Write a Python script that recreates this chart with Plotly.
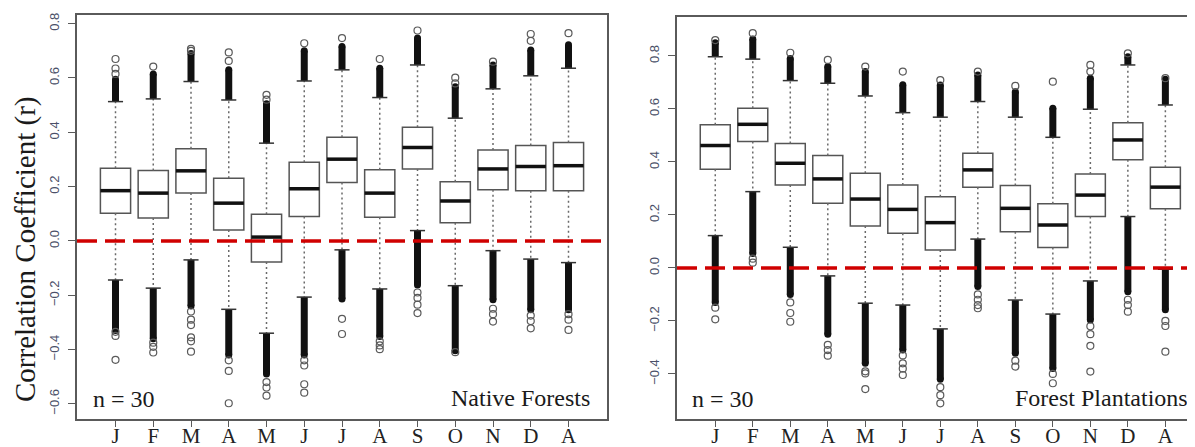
import plotly.graph_objects as go

# page offset: the browser body keeps its default 8px margin
OFF = 8
W, H = 1195 - OFF, 447 - OFF

months = ["J", "F", "M", "A", "M", "J", "J", "A", "S", "O", "N", "D", "A"]
positions = list(range(1, 14))

# ---------------- Native Forests ----------------
nf_q1 = [0.102, 0.084, 0.176, 0.040, -0.078, 0.090, 0.215, 0.087, 0.265, 0.067, 0.188, 0.185, 0.185]
nf_med = [0.185, 0.176, 0.258, 0.139, 0.014, 0.192, 0.301, 0.176, 0.344, 0.147, 0.265, 0.274, 0.277]
nf_q3 = [0.268, 0.259, 0.339, 0.231, 0.098, 0.290, 0.382, 0.262, 0.419, 0.218, 0.335, 0.351, 0.362]
nf_lo = [-0.144, -0.174, -0.070, -0.252, -0.340, -0.207, -0.033, -0.177, 0.038, -0.165, -0.036, -0.067, -0.080]
nf_hi = [0.513, 0.523, 0.587, 0.519, 0.360, 0.589, 0.630, 0.528, 0.648, 0.452, 0.560, 0.608, 0.636]
nf_dense_hi = [0.595, 0.615, 0.690, 0.630, 0.505, 0.700, 0.716, 0.636, 0.747, 0.568, 0.648, 0.703, 0.722]
nf_dense_lo = [-0.330, -0.360, -0.240, -0.420, -0.490, -0.420, -0.214, -0.352, -0.162, -0.405, -0.217, -0.254, -0.254]
nf_sparse = [
    [0.615, 0.635, 0.670, -0.335, -0.350, -0.438],
    [0.642, -0.375, -0.390, -0.411],
    [0.700, 0.707, -0.260, -0.290, -0.310, -0.355, -0.370, -0.408],
    [0.663, 0.694, -0.440, -0.479, -0.598],
    [0.520, 0.538, -0.520, -0.540, -0.570],
    [0.728, -0.440, -0.459, -0.528, -0.559],
    [0.747, -0.287, -0.343],
    [0.670, -0.370, -0.385, -0.399],
    [0.775, -0.190, -0.210, -0.235, -0.266],
    [0.580, 0.601, -0.410],
    [0.660, -0.250, -0.270, -0.297],
    [0.737, 0.762, -0.275, -0.295, -0.322],
    [0.765, -0.270, -0.290, -0.328],
]

# ---------------- Forest Plantations ----------------
fp_q1 = [0.372, 0.477, 0.313, 0.244, 0.158, 0.131, 0.068, 0.305, 0.137, 0.077, 0.194, 0.408, 0.223]
fp_med = [0.462, 0.542, 0.395, 0.336, 0.260, 0.221, 0.171, 0.370, 0.225, 0.162, 0.275, 0.483, 0.305]
fp_q3 = [0.540, 0.603, 0.470, 0.424, 0.357, 0.313, 0.269, 0.433, 0.311, 0.242, 0.355, 0.548, 0.380]
fp_lo = [0.122, 0.288, 0.078, -0.030, -0.133, -0.140, -0.230, 0.109, -0.121, -0.174, -0.049, 0.194, -0.005]
fp_hi = [0.797, 0.788, 0.707, 0.697, 0.649, 0.586, 0.569, 0.628, 0.569, 0.493, 0.599, 0.766, 0.615]
fp_dense_hi = [0.850, 0.864, 0.790, 0.760, 0.741, 0.691, 0.690, 0.728, 0.665, 0.603, 0.716, 0.797, 0.712]
fp_dense_lo = [-0.130, 0.055, -0.100, -0.250, -0.360, -0.310, -0.420, -0.070, -0.322, -0.379, -0.196, -0.090, -0.158]
fp_sparse = [
    [0.860, -0.150, -0.194],
    [0.886, 0.035, 0.020],
    [0.812, -0.130, -0.170, -0.203],
    [0.785, -0.290, -0.310, -0.331],
    [0.760, -0.390, -0.398, -0.457],
    [0.741, -0.330, -0.360, -0.380, -0.404],
    [0.709, -0.450, -0.480, -0.511],
    [0.741, -0.100, -0.120, -0.140, -0.152],
    [0.687, -0.350, -0.372],
    [0.703, -0.400, -0.435],
    [0.741, 0.766, -0.220, -0.250, -0.294, -0.391],
    [0.810, -0.120, -0.140, -0.165],
    [0.716, -0.200, -0.219, -0.316],
]

left_yticks = [-0.6, -0.4, -0.2, 0.0, 0.2, 0.4, 0.6, 0.8]
right_yticks = [-0.4, -0.2, 0.0, 0.2, 0.4, 0.6, 0.8]

SERIF = "Liberation Serif"
SANS = "Liberation Sans"
FRAME = "#5a5a5a"


def px_x(p):
    return (p - OFF) / W


def px_y(p):
    return 1 - (p - OFF) / H


def panel(xa, ya, q1, med, q3, lo, hi, dhi, dlo, sparse):
    tr = []
    box_w = 0.8
    cap_w = 0.2
    # dotted whiskers
    wx, wy = [], []
    for i, p in enumerate(positions):
        wx += [p, p, None, p, p, None]
        wy += [q3[i], hi[i], None, q1[i], lo[i], None]
    tr.append(go.Scatter(x=wx, y=wy, mode="lines", hoverinfo="skip",
                         line=dict(color="#6a6a6a", width=1.5, dash="2px,3px"),
                         xaxis=xa, yaxis=ya))
    # boxes
    tr.append(go.Box(x=positions, q1=q1, median=med, q3=q3,
                     lowerfence=q1, upperfence=q3, width=box_w, whiskerwidth=0,
                     fillcolor="white", line=dict(color="#555555", width=1.5),
                     boxpoints=False, xaxis=xa, yaxis=ya, hoverinfo="skip"))
    # thick medians
    mx, my = [], []
    for i, p in enumerate(positions):
        mx += [p - box_w / 2, p + box_w / 2, None]
        my += [med[i], med[i], None]
    tr.append(go.Scatter(x=mx, y=my, mode="lines", hoverinfo="skip",
                         line=dict(color="#111111", width=3.5),
                         xaxis=xa, yaxis=ya))
    # dense outlier streaks
    sx, sy = [], []
    for i, p in enumerate(positions):
        sx += [p, p, None, p, p, None]
        sy += [hi[i], dhi[i], None, lo[i], dlo[i], None]
    tr.append(go.Scatter(x=sx, y=sy, mode="lines", hoverinfo="skip",
                         line=dict(color="#111111", width=7),
                         xaxis=xa, yaxis=ya))
    ex, ey = [], []
    for i, p in enumerate(positions):
        ex += [p, p]
        ey += [dhi[i], dlo[i]]
    tr.append(go.Scatter(x=ex, y=ey, mode="markers", hoverinfo="skip",
                         marker=dict(symbol="circle", size=7, color="#111111",
                                     line=dict(width=0)),
                         xaxis=xa, yaxis=ya))
    # caps
    cx, cy = [], []
    for i, p in enumerate(positions):
        cx += [p - cap_w, p + cap_w, None, p - cap_w, p + cap_w, None]
        cy += [hi[i], hi[i], None, lo[i], lo[i], None]
    tr.append(go.Scatter(x=cx, y=cy, mode="lines", hoverinfo="skip",
                         line=dict(color="#333333", width=1.5),
                         xaxis=xa, yaxis=ya))
    # sparse outliers
    ox, oy = [], []
    for i, p in enumerate(positions):
        for v in sparse[i]:
            ox.append(p)
            oy.append(v)
    tr.append(go.Scatter(x=ox, y=oy, mode="markers", hoverinfo="skip",
                         marker=dict(symbol="circle-open", size=7, color="#5a5a5a",
                                     line=dict(width=1.2)),
                         xaxis=xa, yaxis=ya))
    return tr


fig = go.Figure()
for t in panel("x", "y", nf_q1, nf_med, nf_q3, nf_lo, nf_hi, nf_dense_hi, nf_dense_lo, nf_sparse):
    fig.add_trace(t)
for t in panel("x2", "y2", fp_q1, fp_med, fp_q3, fp_lo, fp_hi, fp_dense_hi, fp_dense_lo, fp_sparse):
    fig.add_trace(t)

xcommon = dict(tickmode="array", tickvals=positions, ticktext=months,
               ticks="outside", ticklen=6, tickwidth=1.2, tickcolor=FRAME,
               showline=True, linecolor=FRAME, linewidth=1.5, mirror=True,
               showgrid=False, zeroline=False, automargin=False,
               ticklabelstandoff=-9,
               tickfont=dict(family=SERIF, size=21, color="#222222"))
ycommon = dict(tickmode="array", tickformat=".1f", tickangle=-90,
               ticks="outside", ticklen=7, tickwidth=1.2, tickcolor=FRAME,
               showline=True, linecolor=FRAME, linewidth=1.5,
               showgrid=False, zeroline=False, automargin=False,
               ticklabelstandoff=4,
               tickfont=dict(family=SANS, size=13, color="#4a5068"))

fig.update_layout(
    width=W, height=H,
    margin=dict(l=0, r=0, t=0, b=0),
    paper_bgcolor="white", plot_bgcolor="white",
    showlegend=False,
    xaxis=dict(domain=[px_x(77), px_x(607)], range=[-0.02, 14.02], anchor="y", **xcommon),
    yaxis=dict(domain=[px_y(419), px_y(15)], range=[-0.656, 0.832], anchor="x",
               tickvals=left_yticks, mirror=True, **ycommon),
    xaxis2=dict(domain=[px_x(677), 1.0], range=[-0.02, 13.79], anchor="y2", **xcommon),
    yaxis2=dict(domain=[px_y(419), px_y(17)], range=[-0.570, 0.947], anchor="x2",
                tickvals=right_yticks, mirror=False, **ycommon),
)

red = dict(color="#d00000", width=3.5, dash="20px,8px")
fig.add_shape(type="line", xref="x domain", yref="y", x0=0, x1=1, y0=0, y1=0, line=red)
fig.add_shape(type="line", xref="x2 domain", yref="y2", x0=0, x1=1, y0=0, y1=0, line=red)

tfont = dict(family=SERIF, size=24, color="#1a1a1a")
fig.add_annotation(text="n = 30", xref="paper", yref="paper", x=px_x(91), y=px_y(399),
                   xanchor="left", yanchor="middle", showarrow=False, font=tfont)
fig.add_annotation(text="Native Forests", xref="paper", yref="paper", x=px_x(592), y=px_y(398),
                   xanchor="right", yanchor="middle", showarrow=False, font=tfont)
fig.add_annotation(text="n = 30", xref="paper", yref="paper", x=px_x(690), y=px_y(399),
                   xanchor="left", yanchor="middle", showarrow=False, font=tfont)
fig.add_annotation(text="Forest Plantations", xref="paper", yref="paper", x=px_x(1190), y=px_y(398),
                   xanchor="right", yanchor="middle", showarrow=False, font=tfont)
fig.add_annotation(text="Correlation Coefficient (r)", xref="paper", yref="paper",
                   x=px_x(25), y=px_y(250), xanchor="center", yanchor="middle",
                   textangle=-90, showarrow=False,
                   font=dict(family=SERIF, size=29, color="#1a1a1a"))

fig.write_html("out.html")
